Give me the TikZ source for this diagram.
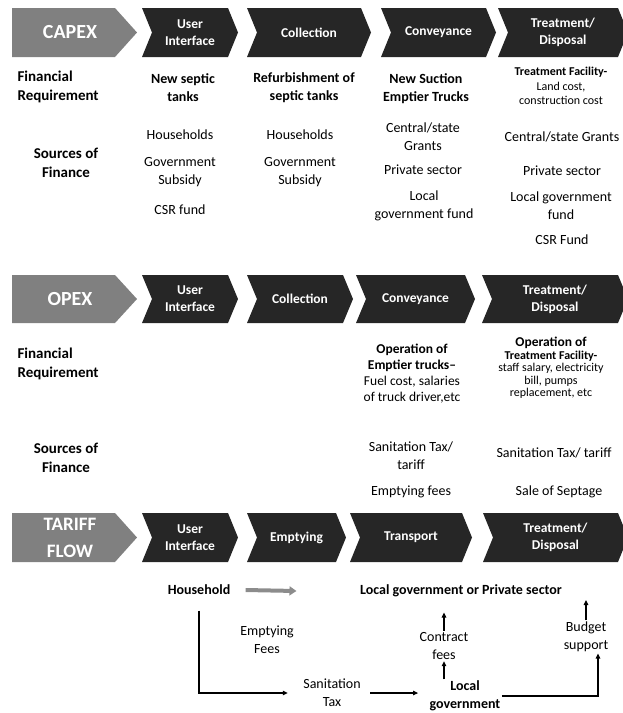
\documentclass[tikz,border=0pt]{standalone}
\usepackage{fontspec}
\setmainfont{Carlito}
\usetikzlibrary{arrows.meta}

\tikzset{
  chevbox/.style={fill=black!85},
  headbox/.style={fill=black!50},
  chevtxt/.style={text=white, font=\bfseries\fontsize{13.5}{17}\selectfont, align=center},
  headtxt/.style={text=white, font=\bfseries\fontsize{20}{27}\selectfont, align=center},
  rowlbl/.style={font=\bfseries\fontsize{15}{19}\selectfont, inner sep=1pt},
  bodyb/.style={font=\bfseries\fontsize{14}{18}\selectfont, align=center, inner sep=1pt},
  body/.style={font=\fontsize{14}{18}\selectfont, align=center, inner sep=1pt},
  midtxt/.style={font=\fontsize{13.5}{16}\selectfont, align=center, inner sep=1pt},
  smalltxt/.style={font=\fontsize{12}{12.5}\selectfont, align=center, inner sep=1pt},
  graybar/.style={draw=black!45, line width=4pt, -{Triangle[length=7pt,width=9pt]}},
}

\begin{document}
\begin{tikzpicture}[x=1pt,y=-1pt,>={Triangle[length=5pt,width=4.5pt]},line width=1.1pt]
\useasboundingbox (0,0) rectangle (623,713);

% CAPEX row
\def\yt{8} \def\ym{32.5} \def\yb{57}
\fill[headbox] (12,\yt) -- (115,\yt) -- (137,\ym) -- (115,\yb) -- (12,\yb) -- cycle;
\node[headtxt] (hd1) at (70,\ym) {CAPEX};
\foreach \xa/\xb/\nm/\txt in {142/238/ui1/{User\\Interface}, 247/371/col1/Collection,
    381/496/con1/Conveyance, 498/628/trt1/{Treatment/\\Disposal}}{
  \fill[chevbox] (\xa,\yt) -- (\xb-10,\yt) -- (\xb,\ym) -- (\xb-10,\yb) -- (\xa,\yb) -- (\xa+10,\ym) -- cycle;
  \node[chevtxt] (\nm) at ({(\xa+\xb)/2},\ym) {\txt};
}

\node[rowlbl, anchor=west, align=left] (fr1) at (16,87) {Financial\\Requirement};
\node[bodyb] (nst) at (183,88) {New septic\\tanks};
\node[bodyb] (rst) at (304,88) {Refurbishment of\\septic tanks};
\node[bodyb] (nse) at (426,89) {New Suction\\Emptier Trucks};
\node[smalltxt, font=\fontsize{12}{14.5}\selectfont] (tfc) at (561,86) {\textbf{Treatment Facility-}\\Land cost,\\construction cost};

\node[rowlbl, align=center] (sf1) at (66,163) {Sources of\\Finance};
\node[body] (hh1) at (180,135) {Households};
\node[body] (gs1) at (180,172) {Government\\Subsidy};
\node[body] (csr1) at (180,210) {CSR fund};
\node[body] (hh2) at (300,135) {Households};
\node[body] (gs2) at (300,172) {Government\\Subsidy};
\node[body] (csg3) at (423,137) {Central/state\\Grants};
\node[body] (ps3) at (423,170) {Private sector};
\node[body] (lgf3) at (424,206) {Local\\government fund};
\node[body] (csg4) at (562,137) {Central/state Grants};
\node[body] (ps4) at (562,171) {Private sector};
\node[body] (lgf4) at (561,206) {Local government\\fund};
\node[body] (csr4) at (562,240) {CSR Fund};

% OPEX row
\def\yt{275} \def\ym{299} \def\yb{323}
\fill[headbox] (12,\yt) -- (115,\yt) -- (137,\ym) -- (115,\yb) -- (12,\yb) -- cycle;
\node[headtxt] (hd2) at (70,\ym) {OPEX};
\foreach \xa/\xb/\nm/\txt in {142/238/ui2/{User\\Interface}, 247/353/col2/Collection,
    356/475/con2/Conveyance, 482/628/trt2/{Treatment/\\Disposal}}{
  \fill[chevbox] (\xa,\yt) -- (\xb-10,\yt) -- (\xb,\ym) -- (\xb-10,\yb) -- (\xa,\yb) -- (\xa+10,\ym) -- cycle;
  \node[chevtxt] (\nm) at ({(\xa+\xb)/2},\ym) {\txt};
}

\node[rowlbl, anchor=west, align=left] (fr2) at (16,364) {Financial\\Requirement};
\node[rowlbl, align=center] (sf2) at (66,458) {Sources of\\Finance};
\node[midtxt] (oet) at (412,374) {\textbf{Operation of}\\\textbf{Emptier trucks--}\\Fuel cost, salaries\\of truck driver,etc};
\node[smalltxt] (otf) at (551,368) {{\fontsize{13.5}{12.5}\selectfont\bfseries Operation of}\\\textbf{Treatment Facility-}\\staff salary, electricity\\bill, pumps\\replacement, etc};
\node[body] (stt3) at (411,456) {Sanitation Tax/\\tariff};
\node[body] (ef3) at (411,492) {Emptying fees};
\node[body] (stt4) at (554,453) {Sanitation Tax/ tariff};
\node[body] (sos4) at (559,492) {Sale of Septage};

% TARIFF FLOW row
\def\yt{513} \def\ym{537.5} \def\yb{562}
\fill[headbox] (12,\yt) -- (115,\yt) -- (137,\ym) -- (115,\yb) -- (12,\yb) -- cycle;
\node[headtxt, font=\bfseries\fontsize{19}{27}\selectfont] (hd3) at (70,\ym) {TARIFF\\FLOW};
\foreach \xa/\xb/\nm/\txt in {142/238/ui3/{User\\Interface}, 247/346/emp3/Emptying,
    350/472/trn3/Transport, 483/628/trt3/{Treatment/\\Disposal}}{
  \fill[chevbox] (\xa,\yt) -- (\xb-10,\yt) -- (\xb,\ym) -- (\xb-10,\yb) -- (\xa,\yb) -- (\xa+10,\ym) -- cycle;
  \node[chevtxt] (\nm) at ({(\xa+\xb)/2},\ym) {\txt};
}

\node[bodyb, minimum width=92pt, minimum height=40pt] (hh) at (199,590) {Household};
\node[bodyb, minimum width=328pt, minimum height=42pt] (lgps) at (461,591) {Local government or Private sector};
\node[body] (ef) at (267,640) {Emptying\\Fees};
\node[body] (st) at (332,693) {Sanitation\\Tax};
\node[bodyb] (lg) at (465,696) {Local\\government};
\node[body] (cf) at (444,646) {Contract\\fees};
\node[body] (bs) at (586,637) {Budget\\support};
\coordinate (psbot) at (586,600);

\draw[graybar] (hh.east) -- (lgps.west);
\draw[->, shorten >=14pt] (hh.south) |- (st.west);
\draw[->, shorten <=8pt, shorten >=10pt] (st.east) -- (st.east -| lg.west);
\draw[->] (lg.north -| cf.south) -- (cf.south);
\draw[->] (cf.north) -- (cf.north |- lgps.south);
\draw[->] (lg.east) -| ([xshift=12pt]bs.south);
\draw[->] (bs.north) -- (psbot);
\end{tikzpicture}
\end{document}
